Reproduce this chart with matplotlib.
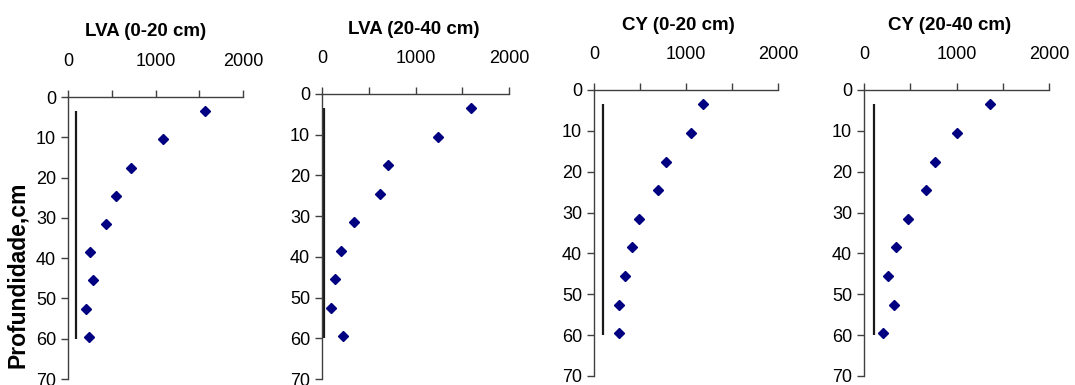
import matplotlib
matplotlib.use("Agg")
import matplotlib.pyplot as plt

plt.rcParams['font.family'] = ['Liberation Sans', 'DejaVu Sans']

titles = ["LVA (0-20 cm)", "LVA (20-40 cm)", "CY (0-20 cm)", "CY (20-40 cm)"]
depths = [3.5, 10.5, 17.5, 24.5, 31.5, 38.5, 45.5, 52.5, 59.5]
lva_0_20 = [1560, 1091, 725, 546, 435, 255, 282, 202, 236]
lva_20_40 = [1594, 1244, 709, 624, 346, 203, 143, 96, 228]
cy_0_20 = [1186, 1049, 785, 691, 492, 416, 333, 275, 268]
cy_20_40 = [1366, 1002, 771, 670, 476, 349, 256, 321, 202]
series = [lva_0_20, lva_20_40, cy_0_20, cy_20_40]
ref_x = [90, 20, 101, 112]
ref_depth = [3.5, 60]
x_ticks = [0, 500, 1000, 1500, 2000]
x_labels = ["0", "", "1000", "", "2000"]
y_ticks = [0, 10, 20, 30, 40, 50, 60, 70]
ylabel = "Profundidade,cm"

W, H = 1075, 385
fig = plt.figure(figsize=(W / 100, H / 100), dpi=100)

# pixel boxes: left, right, top, bottom
boxes = [(68, 243, 97, 379), (322, 509, 94, 379), (594, 778, 90, 376), (864, 1049, 90, 376)]
title_pos = [(146, 32), (414, 30), (678, 26), (950, 26)]
axis_color = '#404040'
for i, (l, r, t, b) in enumerate(boxes):
    ax = fig.add_axes([l / W, 1 - b / H, (r - l) / W, (b - t) / H])
    ax.plot([ref_x[i], ref_x[i]], ref_depth, color='#1a1a1a', lw=1.6, solid_capstyle='butt')
    ax.plot(series[i], depths, linestyle='none', marker='D', markersize=5.3,
            color='#000080', markeredgecolor='#000080')
    ax.set_xlim(0, 2000)
    ax.set_ylim(70, 0)
    ax.xaxis.tick_top()
    ax.set_xticks(x_ticks)
    ax.set_xticklabels(x_labels)
    ax.set_yticks(y_ticks)
    for s in ['right', 'bottom']:
        ax.spines[s].set_visible(False)
    for s in ['left', 'top']:
        ax.spines[s].set_color(axis_color)
        ax.spines[s].set_linewidth(1.0)
    ax.tick_params(axis='x', direction='out', length=5, width=1, color=axis_color,
                   pad=14.5, labelsize=13, labelcolor='black')
    ax.tick_params(axis='y', direction='out', length=5, width=1, color=axis_color,
                   pad=3.5, labelsize=13, labelcolor='black')
    ax.patch.set_alpha(0)
    tx, ty = title_pos[i]
    fig.text(tx / W, 1 - ty / H, titles[i], fontsize=13.5, fontweight='bold',
             ha='center', va='center')

fig.text(18 / W, 1 - 275 / H, ylabel, rotation=90, fontsize=16.5, fontweight='bold',
         ha='center', va='center')

fig.savefig('out.png', dpi=100, facecolor='white')
